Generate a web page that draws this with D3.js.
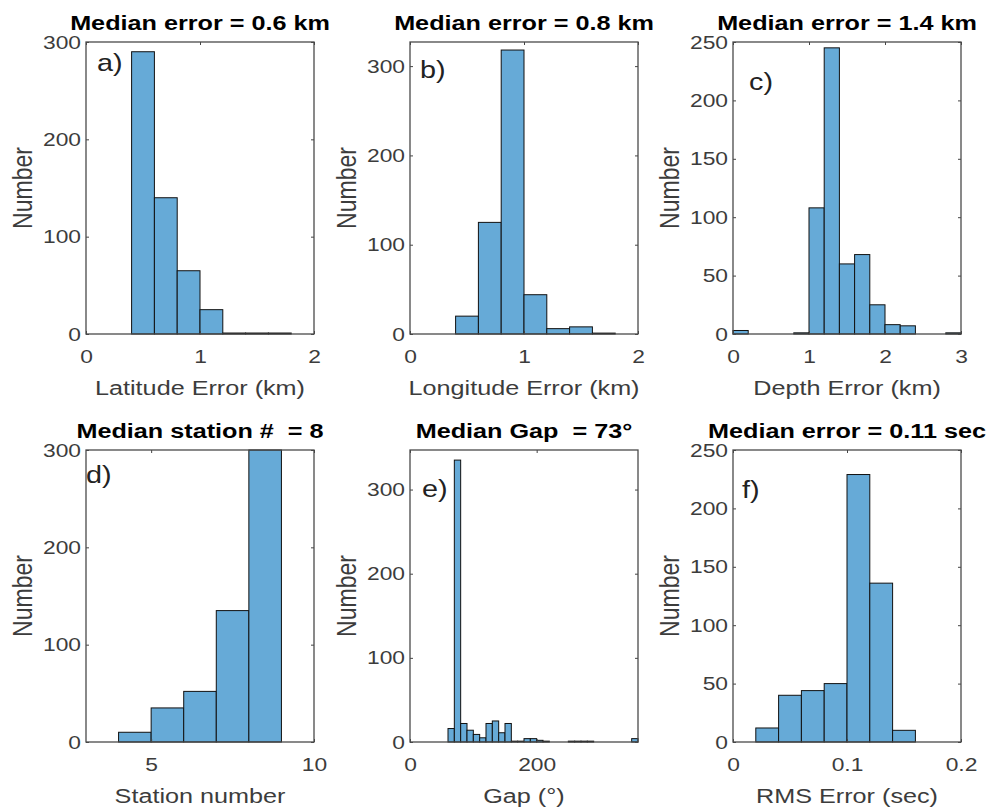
<!DOCTYPE html>
<html>
<head>
<meta charset="utf-8">
<script src="https://d3js.org/d3.v7.min.js"></script>
<style>
  body { margin: 0; background: #fff; }
  svg text { font-family: "Liberation Sans", Arial, sans-serif; white-space: pre; }
</style>
</head>
<body>
<svg width="990" height="809"></svg>
<script>
// histogram bin edges / counts
const latEdges = [0.4, 0.6, 0.8, 1.0, 1.2, 1.4, 1.6, 1.8];
const latCounts = [290, 140, 65, 25, 1, 1, 1];

const lonEdges = [0.4, 0.6, 0.8, 1.0, 1.2, 1.4, 1.6, 1.8];
const lonCounts = [20, 125, 318, 44, 6, 8, 1];

const depthEdges = [0, 0.2, 0.4, 0.6, 0.8, 1.0, 1.2, 1.4, 1.6, 1.8, 2.0, 2.2, 2.4, 2.6, 2.8, 3.0];
const depthCounts = [3, 0, 0, 0, 1, 108, 245, 60, 68, 25, 8, 7, 0, 0, 1];

const stationEdges = [4, 5, 6, 7, 8, 9];
const stationCounts = [10, 35, 52, 135, 300];

const gapEdges = [60, 70, 80, 90, 100, 110, 120, 130, 140, 150, 160, 170, 180, 190, 200, 210,
  220, 230, 240, 250, 260, 270, 280, 290, 300, 310, 320, 330, 340, 350, 360];
const gapCounts = [16, 335, 22, 14, 9, 5, 22, 25, 11, 22, 1, 1, 4, 4, 2, 1,
  0, 0, 0, 1, 1, 1, 1, 0, 0, 0, 0, 0, 0, 4];

const rmsEdges = [0.02, 0.04, 0.06, 0.08, 0.10, 0.12, 0.14, 0.16];
const rmsCounts = [12, 40, 44, 50, 229, 136, 10];

// tick values
const kmTicks2 = [0, 1, 2];
const kmTicks3 = [0, 1, 2, 3];
const stationTicks = [5, 10];
const gapTicks = [0, 200];
const rmsTicks = [0, 0.1, 0.2];
const countTicks100 = [0, 100, 200, 300];
const countTicks50 = [0, 50, 100, 150, 200, 250];

const panels = [
  { tag: 'a)', title: 'Median error = 0.6 km', xlabel: 'Latitude Error (km)',
    edges: latEdges, counts: latCounts, xDom: [0, 2], yDom: [0, 300],
    xTicks: kmTicks2, yTicks: countTicks100, col: 0, row: 0, tagAt: [11, 29] },
  { tag: 'b)', title: 'Median error = 0.8 km', xlabel: 'Longitude Error (km)',
    edges: lonEdges, counts: lonCounts, xDom: [0, 2], yDom: [0, 327],
    xTicks: kmTicks2, yTicks: countTicks100, col: 1, row: 0, tagAt: [10, 36] },
  { tag: 'c)', title: 'Median error = 1.4 km', xlabel: 'Depth Error (km)',
    edges: depthEdges, counts: depthCounts, xDom: [0, 3], yDom: [0, 250],
    xTicks: kmTicks3, yTicks: countTicks50, col: 2, row: 0, tagAt: [16, 48] },
  { tag: 'd)', title: 'Median station #  = 8', xlabel: 'Station number',
    edges: stationEdges, counts: stationCounts, xDom: [3, 10], yDom: [0, 300],
    xTicks: stationTicks, yTicks: countTicks100, col: 0, row: 1, tagAt: [0, 33] },
  { tag: 'e)', title: 'Median Gap  = 73°', xlabel: 'Gap (°)',
    edges: gapEdges, counts: gapCounts, xDom: [0, 360], yDom: [0, 347],
    xTicks: gapTicks, yTicks: countTicks100, col: 1, row: 1, tagAt: [12, 47] },
  { tag: 'f)', title: 'Median error = 0.11 sec', xlabel: 'RMS Error (sec)',
    edges: rmsEdges, counts: rmsCounts, xDom: [0, 0.2], yDom: [0, 250],
    xTicks: rmsTicks, yTicks: countTicks50, col: 2, row: 1, tagAt: [9, 48] }
];

// layout (the original picture is stretched ~1.2x horizontally, text too)
const SX = 1.2;
const colLeft = [86, 410, 733];
const rowTop = [42, 450];
const axW = 228, axH = 292;
const barFill = '#66aad7';
const inkGray = '#3c3c3c';
const fmt = d3.format('~g');

const svg = d3.select('svg');

function stretchText(g, x, y, str, opts) {
  const t = g.append('text')
    .attr('transform', `translate(${x},${y}) scale(${SX},1)` + (opts.rotate ? ` rotate(${opts.rotate})` : ''))
    .attr('text-anchor', opts.anchor || 'start')
    .attr('font-size', opts.size)
    .attr('fill', opts.fill || inkGray)
    .text(str);
  if (opts.bold) t.attr('font-weight', 'bold');
  return t;
}

function fixAxisText(axisG) {
  // move the tick labels' offset into a transform so they can be stretched
  axisG.selectAll('.tick text').each(function () {
    const el = d3.select(this);
    const x = +el.attr('x') || 0;
    const y = +el.attr('y') || 0;
    el.attr('x', null).attr('y', null)
      .attr('transform', `translate(${x},${y}) scale(${SX},1)`);
  });
}

panels.forEach(p => {
  const g = svg.append('g')
    .attr('transform', `translate(${colLeft[p.col]},${rowTop[p.row]})`);

  const x = d3.scaleLinear().domain(p.xDom).range([0, axW]);
  const y = d3.scaleLinear().domain(p.yDom).range([axH, 0]);

  const bins = p.counts.map((c, i) => ({ x0: p.edges[i], x1: p.edges[i + 1], n: c }))
    .filter(d => d.n > 0);

  g.selectAll('rect.bar').data(bins)
    .enter().append('rect')
      .attr('class', 'bar')
      .attr('x', d => x(d.x0))
      .attr('width', d => x(d.x1) - x(d.x0))
      .attr('y', d => y(d.n))
      .attr('height', d => y(0) - y(d.n))
      .attr('fill', barFill)
      .attr('stroke', '#111')
      .attr('stroke-width', 1);

  const xAxisG = g.append('g')
    .attr('transform', `translate(0,${axH})`)
    .call(d3.axisBottom(x).tickValues(p.xTicks).tickFormat(fmt)
      .tickSize(-3).tickSizeOuter(0).tickPadding(16));
  const yAxisG = g.append('g')
    .call(d3.axisLeft(y).tickValues(p.yTicks).tickFormat(fmt)
      .tickSize(-3).tickSizeOuter(0).tickPadding(5));
  g.append('g')
    .call(d3.axisTop(x).tickValues(p.xTicks).tickSize(-3).tickSizeOuter(0).tickFormat(''));
  g.append('g')
    .attr('transform', `translate(${axW},0)`)
    .call(d3.axisRight(y).tickValues(p.yTicks).tickSize(-3).tickSizeOuter(0).tickFormat(''));

  g.selectAll('.domain').remove();
  g.selectAll('.tick line').attr('stroke', '#444');
  [xAxisG, yAxisG].forEach(a => {
    a.selectAll('.tick text')
      .attr('font-size', 19)
      .attr('fill', inkGray)
      .attr('font-family', '"Liberation Sans", Arial, sans-serif');
    fixAxisText(a);
  });

  g.append('rect')
    .attr('width', axW)
    .attr('height', axH)
    .attr('fill', 'none')
    .attr('stroke', '#4a4a4a')
    .attr('stroke-width', 1.3);

  stretchText(g, axW / 2, -12, p.title, { anchor: 'middle', size: 21, bold: true, fill: '#000' });
  stretchText(g, axW / 2, axH + 61, p.xlabel, { anchor: 'middle', size: 21 });
  stretchText(g, -54, axH / 2, 'Number', { anchor: 'middle', size: 23, rotate: -90 });
  stretchText(g, p.tagAt[0], p.tagAt[1], p.tag, { size: 24, fill: '#222' });
});
</script>
</body>
</html>
